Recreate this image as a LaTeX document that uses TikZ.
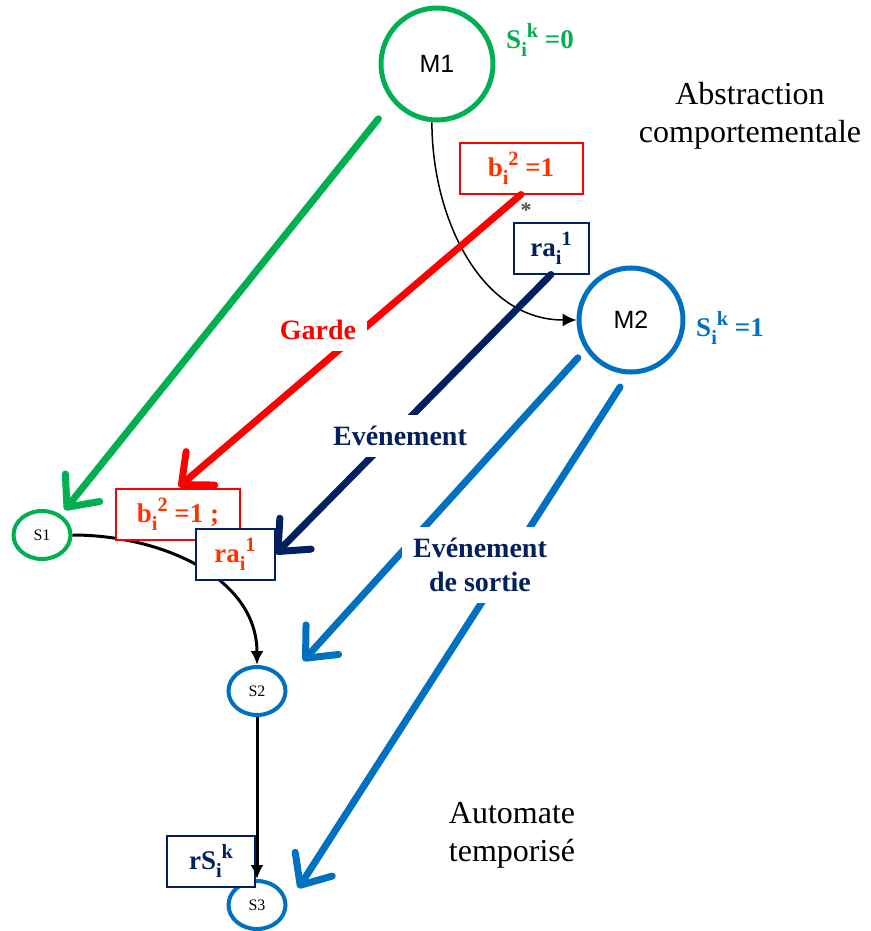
\documentclass[tikz,border=0pt]{standalone}
\usepackage{fontspec}
\setmainfont{Liberation Serif}
\newfontfamily\arialfont{Liberation Sans}
\usepackage{tikz}
\usetikzlibrary{arrows.meta,positioning,shapes.geometric}
\definecolor{mgreen}{HTML}{00B050}
\definecolor{mred}{HTML}{FF0000}
\definecolor{redtext}{HTML}{FF3300}
\definecolor{mblue}{HTML}{0070C0}
\definecolor{navy}{HTML}{002060}
\newcommand{\ix}[2]{\raisebox{-0.3em}{\scalebox{0.75}{#1}}\raisebox{0.4em}{\scalebox{0.75}{#2}}}

\begin{document}
\begin{tikzpicture}[x=1pt,y=-1pt,
  mode/.style={circle,draw,line width=5pt,inner sep=0pt,
               font=\arialfont\fontsize{25}{28}\selectfont},
  loc/.style={ellipse,draw,line width=4pt,minimum width=57pt,minimum height=48pt,
              inner sep=0pt,font=\fontsize{16}{18}\selectfont},
  cond/.style={draw,line width=2pt,fill=white,minimum height=51pt,inner sep=0pt,
               font=\bfseries\fontsize{27}{30}\selectfont},
  lbl/.style={fill=white,inner sep=11pt,align=center,
              font=\bfseries\fontsize{28}{34}\selectfont},
  note/.style={align=center,font=\fontsize{32}{38}\selectfont},
  map/.style={line width=7pt,line cap=round,
              -{Straight Barb[length=25pt,width=44pt,round]}},
  trans/.style={black,-{Latex[length=14pt,width=13pt]}}
]
  \useasboundingbox (0,0) rectangle (870,931);

  % modes of the abstraction
  \node[mode,draw=mgreen,minimum size=112pt] (M1) at (437,64) {M1};
  \node[mode,draw=mblue,minimum size=104pt] (M2) at (631,320) {M2};
  \node[text=mgreen,font=\bfseries\fontsize{27}{30}\selectfont] (s0) at (540,40)
    {S\ix{i}{k} =0};
  \node[text=mblue,font=\bfseries\fontsize{27}{30}\selectfont] (s1) at (730,328)
    {S\ix{i}{k} =1};
  \node[note] (abs) at (750,116) {Abstraction\\comportementale};

  % locations of the timed automaton
  \node[loc,draw=mgreen] (S1) at (42,535) {S1};
  \node[loc,draw=mblue] (S2) at (257,691) {S2};
  \node[loc,draw=mblue] (S3) at (257,905) {S3};
  \node[note] (auto) at (512,835) {Automate\\temporisé};

  \draw[trans,line width=1.5pt] (M1.265) to[out=-90,in=180] (M2.west);
  \draw[trans,line width=3pt] (S1.east) to[out=0,in=90] (S2.north);

  % guards and events
  \node[cond,draw=mred,text=redtext,minimum width=123pt] (b1) at (521,168)
    {b\ix{i}{2} =1};
  \node[text=black!70,font=\bfseries\fontsize{22}{24}\selectfont] (star) at (526,210) {*};
  \node[cond,draw=navy,text=navy,minimum width=75pt] (ra1) at (551,248)
    {ra\ix{i}{1}};
  \node[cond,draw=mred,text=redtext,minimum width=124pt] (b2) at (178,514)
    {b\ix{i}{2} =1 ;};
  \node[cond,draw=navy,text=redtext,minimum width=79pt] (ra2) at (235,554)
    {ra\ix{i}{1}};

  % mappings
  \draw[map,mgreen,shorten <=22pt,shorten >=6pt] (M1.220) -- (S1.47);
  \draw[map,mred,shorten >=1pt] (b1.south) -- (b2.north);
  \draw[map,navy] (ra1.south) -- (ra2.east);
  \draw[map,mblue,shorten <=11pt,shorten >=27pt] (M2.213) -- (S2.20);
  \draw[map,mblue,shorten <=15pt,shorten >=20pt] (M2.267) -- (S3.east);

  \node[cond,draw=navy,text=navy,minimum width=88pt] (rs) at (211,861)
    {rS\ix{i}{k}};
  \draw[trans,line width=3pt] (S2.south) -- (S3.north);

  \node[lbl,text=mred] (garde) at (318,330) {Garde};
  \node[lbl,text=navy] (evt) at (400,436) {Evénement};
  \node[lbl,text=navy] (evtout) at (480,565) {Evénement\\de sortie};
\end{tikzpicture}
\end{document}
